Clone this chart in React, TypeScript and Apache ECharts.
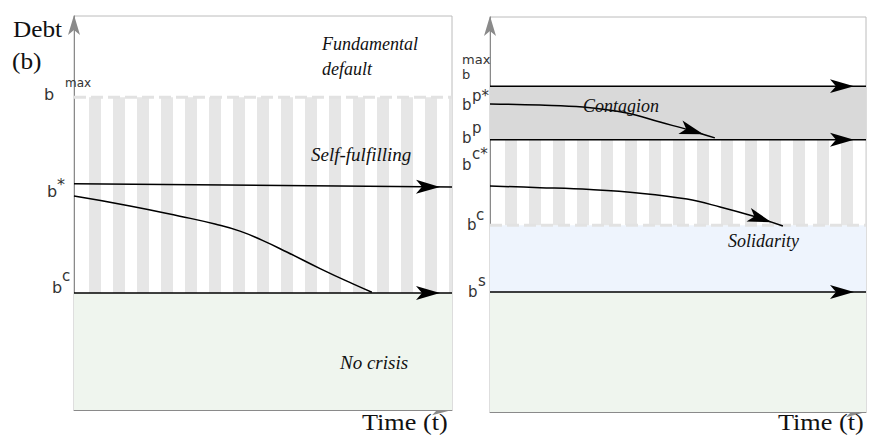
import React, { useEffect, useRef } from "react";
import * as echarts from "echarts";

// ---------- data (values in % of each panel's axis range, 0..100) ----------
// Left panel: single country
const leftBMax = [[0, 79.4], [100, 79.4]];
const leftBStar = [[0, 57.4], [100, 56.6]];
const leftBC = [[0, 29.7], [100, 29.7]];
const leftPath = [
  [0, 54.3], [14.8, 51.8], [28.0, 49.2], [37.3, 47.2], [43.9, 45.4], [49.7, 43.1],
  [56.3, 40.1], [65.1, 35.9], [73.8, 32.0], [78.8, 29.9],
];
const leftStripeZone = [[0, 100, 29.7, 79.4]];
const leftNoCrisisZone = [0, 29.7];

// Right panel: union
const rightBMax = [[0, 82.5], [100, 82.5]];
const rightBP = [[0, 68.9], [100, 68.9]];
const rightBC = [[0, 47.3], [100, 47.3]];
const rightBS = [[0, 30.4], [100, 30.4]];
const rightContagion = [
  [0, 78.0], [13.3, 77.7], [24.7, 77.2], [36.4, 75.7], [45.2, 73.4], [54.0, 71.1], [59.8, 69.4],
];
const rightSolidarity = [
  [0, 57.2], [13.3, 56.8], [26.6, 56.3], [39.9, 55.4], [52.4, 53.9], [61.2, 51.9], [69.9, 49.6], [77.9, 47.1],
];
const rightContagionZone = [68.9, 82.5];
const rightStripeZone = [[0, 100, 47.3, 68.9]];
const rightSolidarityZone = [30.4, 47.3];
const rightNoCrisisZone = [0, 30.4];

// ---------- layout / style ----------
const GRIDS = [
  { left: 74, top: 16, width: 378, height: 394 },
  { left: 490, top: 17, width: 376, height: 395 },
];
const SANS = '"DejaVu Sans"';
const SERIF = '"Liberation Serif"';
const INK = "#000";
const LABEL = "#333";
const STRIPE = "#e6e6e6";

function arrowSeries(pts: number[][], gi: number, smooth: boolean | number) {
  const g = GRIDS[gi];
  const n = pts.length;
  const [x1, y1] = pts[n - 2];
  const [x2, y2] = pts[n - 1];
  const dx = ((x2 - x1) * g.width) / 100;
  const dy = (-(y2 - y1) * g.height) / 100;
  const th = Math.atan2(dy, dx);
  const L = 24;
  const data = pts.map((p, i) =>
    i === n - 1
      ? {
          value: p,
          symbol: "arrow",
          symbolSize: [10.5, L],
          symbolRotate: -(90 + (th * 180) / Math.PI),
          symbolOffset: [(-L / 2) * Math.cos(th), (-L / 2) * Math.sin(th)],
          itemStyle: { color: INK },
        }
      : p
  );
  return {
    type: "line",
    xAxisIndex: gi,
    yAxisIndex: gi,
    data,
    smooth,
    symbol: "none",
    showSymbol: true,
    lineStyle: { color: INK, width: 1.5 },
    z: 5,
    silent: true,
  };
}

function plainLine(pts: number[][], gi: number, smooth: boolean | number) {
  return {
    type: "line",
    xAxisIndex: gi,
    yAxisIndex: gi,
    data: pts,
    smooth,
    symbol: "none",
    lineStyle: { color: INK, width: 1.5 },
    z: 5,
    silent: true,
  };
}

function dashedLevel(pts: number[][], gi: number) {
  return {
    type: "line",
    xAxisIndex: gi,
    yAxisIndex: gi,
    data: pts,
    symbol: "none",
    lineStyle: { color: "#e2e2e2", width: 3, type: [12, 5] },
    z: 3,
    silent: true,
  };
}

function stripeSeries(zone: number[][], gi: number) {
  return {
    type: "custom",
    xAxisIndex: gi,
    yAxisIndex: gi,
    data: zone,
    z: 2,
    silent: true,
    encode: { x: [0, 1], y: [2, 3] },
    renderItem: (_params: any, api: any) => {
      const tl = api.coord([api.value(0), api.value(3)]);
      const br = api.coord([api.value(1), api.value(2)]);
      const children: any[] = [];
      for (let x = tl[0] + 15; x < br[0]; x += 24) {
        children.push({
          type: "rect",
          shape: { x, y: tl[1], width: Math.min(12, br[0] - x), height: br[1] - tl[1] },
          style: { fill: STRIPE },
        });
      }
      return { type: "group", children };
    },
  };
}

function zoneSeries(gi: number, zones: { range: number[]; color: string }[]) {
  return {
    type: "line",
    xAxisIndex: gi,
    yAxisIndex: gi,
    data: [],
    z: 1,
    silent: true,
    markArea: {
      silent: true,
      data: zones.map((z) => [
        { xAxis: 0, yAxis: z.range[0], itemStyle: { color: z.color } },
        { xAxis: 100, yAxis: z.range[1] },
      ]),
    },
  };
}

function txt(text: string, x: number, baseline: number, size: number, family: string, opts: any = {}) {
  return {
    type: "text",
    x,
    y: baseline - 0.34 * size,
    scaleX: opts.scaleX ?? 1,
    z: 20,
    silent: true,
    style: {
      text,
      font: `${opts.italic ? "italic " : ""}${size}px ${family}`,
      fill: opts.fill ?? "#111",
      align: "left",
      verticalAlign: "middle",
    },
  };
}

const texts = [
  txt("Debt", 13, 37, 23, SERIF, { scaleX: 1.1 }),
  txt("(b)", 12, 69, 23, SERIF, { scaleX: 1.1 }),
  txt("Time (t)", 362, 430, 23, SERIF, { scaleX: 1.14 }),
  txt("Time (t)", 778, 430, 23, SERIF, { scaleX: 1.14 }),
  txt("Fundamental", 322, 50, 18, SERIF, { italic: true }),
  txt("default", 322, 75, 18, SERIF, { italic: true }),
  txt("Self-fulfilling", 311, 161, 19, SERIF, { italic: true }),
  txt("No crisis", 340, 369, 19, SERIF, { italic: true }),
  txt("Contagion", 583, 112, 18, SERIF, { italic: true }),
  txt("Solidarity", 728, 247, 18, SERIF, { italic: true }),
  // left level labels
  txt("b", 44, 100, 16, SANS, { fill: LABEL }),
  txt("max", 65, 87, 12, SANS, { fill: LABEL }),
  txt("b", 47, 197, 16, SANS, { fill: LABEL }),
  txt("*", 57, 190, 16, SANS, { fill: LABEL }),
  txt("b", 52, 293, 16, SANS, { fill: LABEL }),
  txt("c", 62, 281, 15, SANS, { fill: LABEL }),
  // right level labels
  {
    type: "text",
    x: 462,
    y: 52,
    z: 20,
    silent: true,
    style: {
      text: "max\nb",
      font: `13px ${SANS}`,
      lineHeight: 15,
      fill: LABEL,
      align: "left",
      verticalAlign: "top",
    },
  },
  txt("b", 462, 110, 15, SANS, { fill: LABEL }),
  txt("p*", 472, 101, 15, SANS, { fill: LABEL }),
  txt("b", 462, 143, 15, SANS, { fill: LABEL }),
  txt("p", 472, 133, 15, SANS, { fill: LABEL }),
  txt("b", 462, 170, 15, SANS, { fill: LABEL }),
  txt("c*", 472, 159, 15, SANS, { fill: LABEL }),
  txt("b", 467, 230, 15, SANS, { fill: LABEL }),
  txt("c", 476, 220, 15, SANS, { fill: LABEL }),
  txt("b", 468, 297, 15, SANS, { fill: LABEL }),
  txt("s", 478, 286, 15, SANS, { fill: LABEL }),
];

function axisPair(gi: number) {
  const line = { color: "#8a8a8a", width: 1 };
  const x = {
    type: "value",
    gridIndex: gi,
    min: 0,
    max: 100,
    axisLine: { show: true, onZero: false, lineStyle: line, symbol: ["none", "arrow"], symbolSize: [8, 20], symbolOffset: [0, 0] },
    axisTick: { show: false },
    axisLabel: { show: false },
    splitLine: { show: false },
  };
  const y = {
    type: "value",
    gridIndex: gi,
    min: 0,
    max: 100,
    axisLine: { show: true, onZero: false, lineStyle: line, symbol: ["none", "arrow"], symbolSize: [9, 20], symbolOffset: [0, 1] },
    axisTick: { show: false },
    axisLabel: { show: false },
    splitLine: { show: false },
  };
  return { x, y };
}

export default function App() {
  const ref = useRef<HTMLDivElement>(null);
  useEffect(() => {
    if (!ref.current) return;
    const chart = echarts.init(ref.current, null, { renderer: "svg" });
    const a0 = axisPair(0);
    const a1 = axisPair(1);
    chart.setOption({
      animation: false,
      backgroundColor: "#fff",
      grid: GRIDS.map((g) => ({
        ...g,
        show: true,
        borderColor: "#bcbcbc",
        borderWidth: 1,
        backgroundColor: "transparent",
        containLabel: false,
        outerBoundsMode: "none",
      })),
      xAxis: [a0.x, a1.x],
      yAxis: [a0.y, a1.y],
      series: [
        zoneSeries(0, [{ range: leftNoCrisisZone, color: "#eff5ee" }]),
        stripeSeries(leftStripeZone, 0),
        dashedLevel(leftBMax, 0),
        arrowSeries(leftBStar, 0, false),
        arrowSeries(leftBC, 0, false),
        plainLine(leftPath, 0, 0.5),
        zoneSeries(1, [
          { range: rightNoCrisisZone, color: "#eff5ee" },
          { range: rightSolidarityZone, color: "#eef4fd" },
          { range: rightContagionZone, color: "#d9d9d9" },
        ]),
        stripeSeries(rightStripeZone, 1),
        dashedLevel(rightBC, 1),
        arrowSeries(rightBMax, 1, false),
        arrowSeries(rightBP, 1, false),
        arrowSeries(rightBS, 1, false),
        arrowSeries(rightContagion, 1, 0.4),
        arrowSeries(rightSolidarity, 1, 0.4),
      ],
      graphic: texts,
    });
    return () => chart.dispose();
  }, []);
  return (
    <div
      ref={ref}
      style={{ position: "fixed", left: 0, top: 0, width: 873, height: 445, background: "#fff" }}
    />
  );
}
